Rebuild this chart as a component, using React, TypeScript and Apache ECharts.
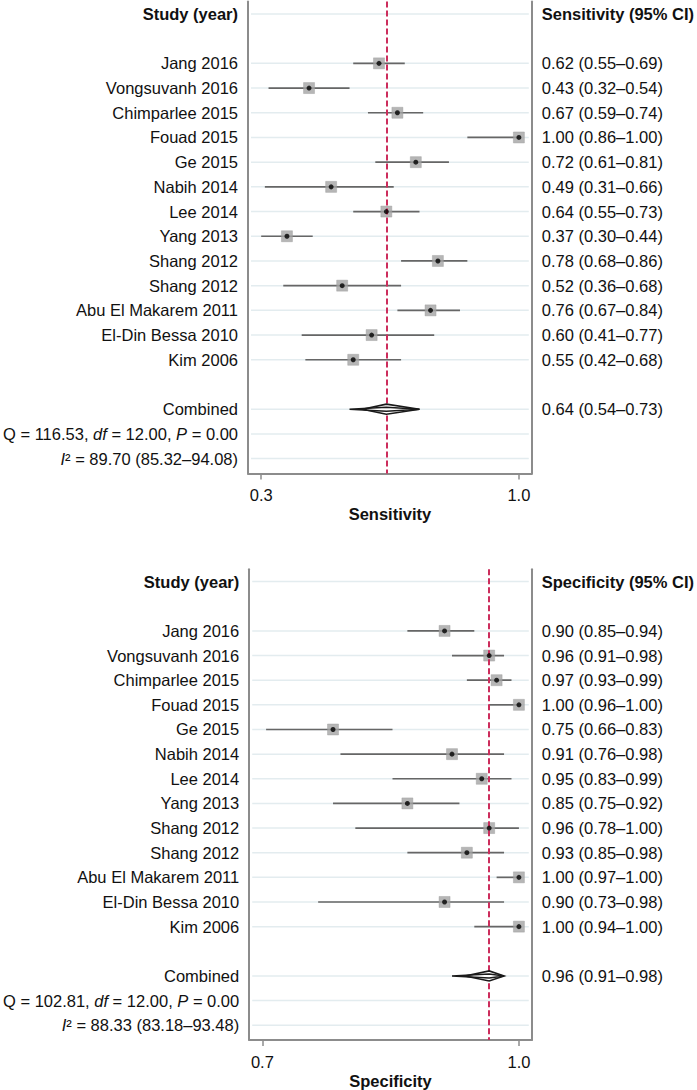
import React, { useEffect, useRef } from "react";
import * as echarts from "echarts";

// ---------- data ----------
const studies = [
  "Jang 2016", "Vongsuvanh 2016", "Chimparlee 2015", "Fouad 2015", "Ge 2015",
  "Nabih 2014", "Lee 2014", "Yang 2013", "Shang 2012", "Shang 2012",
  "Abu El Makarem 2011", "El-Din Bessa 2010", "Kim 2006",
];
const studyRows = [2, 3, 4, 5, 6, 7, 8, 9, 10, 11, 12, 13, 14];
const headerRow = 0;
const combinedRow = 16;
const qRow = 17;
const i2Row = 18;

const sensEst = [0.62, 0.43, 0.67, 1.0, 0.72, 0.49, 0.64, 0.37, 0.78, 0.52, 0.76, 0.6, 0.55];
const sensLo = [0.55, 0.32, 0.59, 0.86, 0.61, 0.31, 0.55, 0.3, 0.68, 0.36, 0.67, 0.41, 0.42];
const sensHi = [0.69, 0.54, 0.74, 1.0, 0.81, 0.66, 0.73, 0.44, 0.86, 0.68, 0.84, 0.77, 0.68];
const sensPooled = [0.64, 0.54, 0.73]; // est, lo, hi
const sensHet = ["116.53", "12.00", "0.00"]; // Q, df, P
const sensI2 = ["89.70", "85.32", "94.08"];
const sensTickValues = [0.3, 1.0];
const sensTickLabels = ["0.3", "1.0"];

const specEst = [0.9, 0.96, 0.97, 1.0, 0.75, 0.91, 0.95, 0.85, 0.96, 0.93, 1.0, 0.9, 1.0];
const specLo = [0.85, 0.91, 0.93, 0.96, 0.66, 0.76, 0.83, 0.75, 0.78, 0.85, 0.97, 0.73, 0.94];
const specHi = [0.94, 0.98, 0.99, 1.0, 0.83, 0.98, 0.99, 0.92, 1.0, 0.98, 1.0, 0.98, 1.0];
const specPooled = [0.96, 0.91, 0.98];
const specHet = ["102.81", "12.00", "0.00"];
const specI2 = ["88.33", "83.18", "93.48"];
const specTickValues = [0.655, 1.0];
const specTickLabels = ["0.7", "1.0"];

const gridRows = [headerRow, ...studyRows, combinedRow, qRow, i2Row];

// ---------- styles ----------
const FONT = "'Liberation Sans', Arial, Helvetica, sans-serif";
const FS = 16.5;
const TXT = "#111";
const BORDER = "#8c8c8c";
const GRIDLINE = "#e3ecef";

const fmt = (e: number, l: number, h: number) =>
  `${e.toFixed(2)} (${l.toFixed(2)}\u2013${h.toFixed(2)})`;

const rich = {
  b: { fontFamily: FONT, fontSize: FS, fontWeight: "bold", color: TXT },
  i: { fontFamily: FONT, fontSize: FS, fontStyle: "italic", color: TXT },
  n: { fontFamily: FONT, fontSize: FS, color: TXT },
};

function panel(
  idx: number,
  title: string,
  est: number[], lo: number[], hi: number[],
  pooled: number[], het: string[], i2: string[],
  tickValues: number[], tickLabels: string[],
  xMin: number, xMax: number,
) {
  const leftLabels: Record<number, string> = {};
  const rightLabels: Record<number, string> = {};
  leftLabels[headerRow] = "{b|Study (year)}";
  rightLabels[headerRow] = `{b|${title} (95% CI)}`;
  studyRows.forEach((r, k) => {
    leftLabels[r] = `{n|${studies[k]}}`;
    rightLabels[r] = `{n|${fmt(est[k], lo[k], hi[k])}}`;
  });
  leftLabels[combinedRow] = "{n|Combined}";
  rightLabels[combinedRow] = `{n|${fmt(pooled[0], pooled[1], pooled[2])}}`;
  leftLabels[qRow] = `{n|Q = ${het[0]}, }{i|df}{n| = ${het[1]}, }{i|P}{n| = ${het[2]}}`;
  leftLabels[i2Row] = `{i|I}{n|\u00b2 = ${i2[0]} (${i2[1]}\u2013${i2[2]})}`;

  const labelRows = [headerRow, ...studyRows, combinedRow, qRow, i2Row];
  const rightRows = [headerRow, ...studyRows, combinedRow];

  const yBase = {
    type: "value",
    gridIndex: idx,
    min: -0.5,
    max: 18.6,
    inverse: true,
    splitLine: { show: false },
    axisTick: { show: false },
    axisLine: { show: true, onZero: false, lineStyle: { color: BORDER, width: 2 } },
  };

  const yAxes = [
    {
      ...yBase,
      position: "left",
      axisLabel: {
        show: true,
        margin: 10,
        customValues: labelRows,
        formatter: (v: number) => leftLabels[Math.round(v)] ?? "",
        rich,
      },
    },
    {
      ...yBase,
      position: "right",
      axisLabel: {
        show: true,
        margin: 10,
        align: "left",
        customValues: rightRows,
        formatter: (v: number) => rightLabels[Math.round(v)] ?? "",
        rich,
      },
    },
  ];

  const xAxis = {
    type: "value",
    gridIndex: idx,
    min: xMin,
    max: xMax,
    splitLine: { show: false },
    axisLine: { show: true, onZero: false, lineStyle: { color: BORDER, width: 2 } },
    axisTick: { show: true, customValues: tickValues, length: 6, lineStyle: { color: BORDER, width: 1.5 } },
    axisLabel: {
      show: true,
      customValues: tickValues,
      margin: 13,
      fontSize: FS,
      fontFamily: FONT,
      color: TXT,
      formatter: (v: number) => {
        const k = tickValues.findIndex((t) => Math.abs(t - v) < 1e-6);
        return k >= 0 ? tickLabels[k] : "";
      },
    },
    name: title,
    nameLocation: "middle",
    nameGap: 32,
    nameTextStyle: { fontSize: FS, fontWeight: "bold", color: TXT, fontFamily: FONT },
  };

  const xMid = (xMin + xMax) / 2;
  const yL = idx * 2;

  const series: any[] = [
    {
      type: "custom",
      xAxisIndex: idx,
      yAxisIndex: yL,
      silent: true,
      clip: false,
      z: 1,
      data: gridRows.map((r) => [xMid, r]),
      renderItem: (params: any, api: any) => {
        const cs = params.coordSys;
        const y = api.coord([xMid, api.value(1)])[1];
        return {
          type: "line",
          shape: { x1: cs.x + 3, y1: y, x2: cs.x + cs.width - 3, y2: y },
          style: { stroke: GRIDLINE, lineWidth: 1.5 },
        };
      },
    },
    {
      type: "custom",
      xAxisIndex: idx,
      yAxisIndex: yL,
      silent: true,
      clip: false,
      z: 3,
      encode: { x: [0, 1], y: 2 },
      data: studyRows.map((r, k) => [lo[k], hi[k], r]),
      renderItem: (params: any, api: any) => {
        const p1 = api.coord([api.value(0), api.value(2)]);
        const p2 = api.coord([api.value(1), api.value(2)]);
        return {
          type: "line",
          shape: { x1: p1[0], y1: p1[1], x2: p2[0], y2: p2[1] },
          style: { stroke: "#666", lineWidth: 1.7 },
        };
      },
    },
    {
      type: "scatter",
      xAxisIndex: idx,
      yAxisIndex: yL,
      silent: true,
      z: 4,
      symbol: "rect",
      symbolSize: 11,
      itemStyle: { color: "#a4a4a4", borderColor: "#999", borderWidth: 0.5 },
      data: studyRows.map((r, k) => [est[k], r]),
      markLine: {
        silent: true,
        symbol: ["none", "none"],
        label: { show: false },
        lineStyle: { color: "#cc2d5c", type: [6, 3], width: 2 },
        data: [{ xAxis: pooled[0] }],
      },
    },
    {
      type: "scatter",
      xAxisIndex: idx,
      yAxisIndex: yL,
      silent: true,
      z: 5,
      symbol: "circle",
      symbolSize: 5,
      itemStyle: { color: "#000" },
      data: studyRows.map((r, k) => [est[k], r]),
    },
    {
      type: "custom",
      xAxisIndex: idx,
      yAxisIndex: yL,
      silent: true,
      clip: false,
      z: 6,
      encode: { x: [0, 1, 2], y: 3 },
      data: [[pooled[1], pooled[0], pooled[2], combinedRow]],
      renderItem: (params: any, api: any) => {
        const row = api.value(3);
        const pl = api.coord([api.value(0), row]);
        const pe = api.coord([api.value(1), row]);
        const ph = api.coord([api.value(2), row]);
        const y = pl[1];
        const fatStart = pl[0] + 0.35 * (pe[0] - pl[0]);
        return {
          type: "group",
          children: [
            {
              type: "polygon",
              shape: { points: [[fatStart, y], [pe[0], y - 5], [ph[0], y], [pe[0], y + 5]] },
              style: { fill: "#fff", stroke: "#1a1a1a", lineWidth: 1.6 },
            },
            {
              type: "polygon",
              shape: { points: [[pl[0], y], [pe[0], y - 2], [ph[0], y], [pe[0], y + 2]] },
              style: { fill: "none", stroke: "#1a1a1a", lineWidth: 1.5 },
            },
          ],
        };
      },
    },
  ];

  return { yAxes, xAxis, series };
}

export default function App() {
  const ref = useRef<HTMLDivElement>(null);

  useEffect(() => {
    if (!ref.current) return;
    const chart = echarts.init(ref.current, undefined, { renderer: "svg" });

    const p0 = panel(0, "Sensitivity", sensEst, sensLo, sensHi, sensPooled, sensHet, sensI2,
      sensTickValues, sensTickLabels, 0.2642, 1.035);
    const p1 = panel(1, "Specificity", specEst, specLo, specHi, specPooled, specHet, specI2,
      specTickValues, specTickLabels, 0.6373, 1.0173);

    chart.setOption({
      animation: false,
      backgroundColor: "#fff",
      textStyle: { fontFamily: FONT },
      grid: [
        { left: 247.7, width: 286.3, top: 1.6, height: 471.8 },
        { left: 247.7, width: 285.0, top: 569.3, height: 471.8 },
      ],
      xAxis: [p0.xAxis, p1.xAxis],
      yAxis: [...p0.yAxes, ...p1.yAxes],
      series: [...p0.series, ...p1.series],
    } as any);

    return () => chart.dispose();
  }, []);

  return (
    <div
      ref={ref}
      style={{
        position: "absolute", left: 0, top: 0, width: 697, height: 1090,
        overflow: "hidden", background: "#fff",
      }}
    />
  );
}
